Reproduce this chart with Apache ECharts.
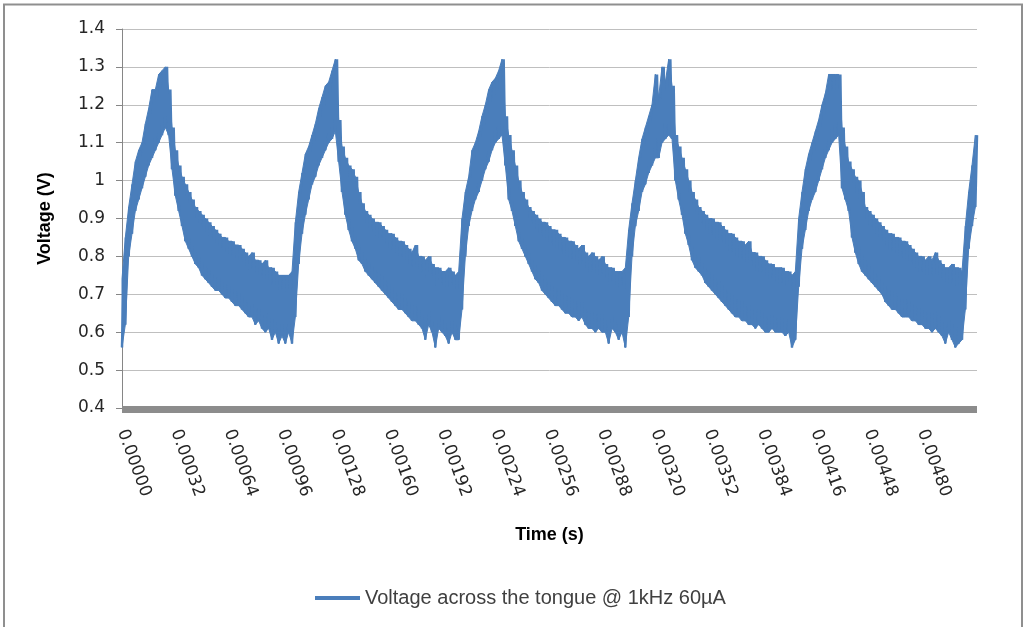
<!DOCTYPE html>
<html lang="en">
    <head>
        <meta charset="UTF-8">
        <title>Voltage across the tongue</title>
        <style>
            html, body { margin: 0; padding: 0; background: #fff; }
        </style>
    </head>
    <body>
        <div id="main" style="width: 1025px;height:627px;"></div>
        <script src="https://cdn.jsdelivr.net/npm/echarts@6/dist/echarts.min.js"></script>
        <script type="text/javascript">
            var step = 0.00002;

            // upper edge of the trace, one line per cycle
            var upper = [
                0.74,0.85,0.93,0.99,1.05,1.08,1.10,1.15,1.19,1.24,1.24,1.28,1.29,1.30,1.24,1.14,1.08,1.04,1.01,0.99,0.97,0.95,0.93,0.92,0.91,0.90,0.89,0.88,0.87,0.86,0.85,0.85,0.84,0.84,0.83,0.83,0.82,0.81,0.80,0.81,0.79,0.79,0.78,0.79,0.77,0.77,0.76,0.75,0.75,0.75,0.75,
                0.76,0.89,0.97,1.02,1.07,1.09,1.12,1.15,1.19,1.22,1.25,1.26,1.29,1.32,1.16,1.09,1.06,1.04,1.03,1.01,0.97,0.94,0.92,0.91,0.90,0.89,0.89,0.88,0.87,0.86,0.86,0.85,0.84,0.84,0.83,0.82,0.81,0.83,0.80,0.80,0.79,0.80,0.78,0.77,0.77,0.76,0.76,0.77,0.76,0.75,
                0.76,0.90,0.97,1.01,1.08,1.10,1.13,1.17,1.20,1.24,1.26,1.27,1.29,1.32,1.17,1.12,1.08,1.04,1.00,0.97,0.95,0.93,0.92,0.91,0.90,0.89,0.89,0.88,0.87,0.87,0.86,0.85,0.85,0.84,0.84,0.83,0.82,0.83,0.81,0.80,0.81,0.80,0.79,0.80,0.78,0.77,0.77,0.76,0.76,0.76,
                0.77,0.87,0.94,1.00,1.06,1.11,1.14,1.17,1.20,1.28,1.22,1.30,1.26,1.32,1.25,1.12,1.09,1.06,1.03,1.00,0.97,0.95,0.93,0.92,0.91,0.90,0.90,0.89,0.89,0.88,0.87,0.86,0.86,0.85,0.84,0.84,0.83,0.84,0.81,0.81,0.80,0.80,0.79,0.78,0.78,0.77,0.77,0.77,0.76,0.76,0.75,
                0.76,0.90,0.97,1.03,1.07,1.10,1.13,1.16,1.20,1.23,1.28,1.28,1.28,1.28,1.14,1.09,1.05,1.03,1.01,1.00,0.97,0.93,0.92,0.91,0.90,0.89,0.88,0.87,0.86,0.86,0.85,0.85,0.84,0.84,0.83,0.82,0.81,0.80,0.80,0.79,0.80,0.79,0.81,0.79,0.78,0.77,0.77,0.78,0.77,0.77,
                0.76,0.88,0.97,1.04,1.12
            ];

            // lower edge of the trace
            var lower = [
                0.56,0.62,0.80,0.86,0.92,0.95,0.98,1.01,1.04,1.06,1.08,1.10,1.12,1.14,1.12,1.03,0.96,0.92,0.88,0.84,0.82,0.80,0.78,0.77,0.75,0.74,0.73,0.72,0.71,0.71,0.70,0.69,0.69,0.68,0.67,0.67,0.66,0.65,0.64,0.64,0.62,0.63,0.61,0.60,0.61,0.58,0.60,0.57,0.59,0.57,0.60,
                0.57,0.64,0.78,0.86,0.91,0.95,0.99,1.01,1.04,1.06,1.08,1.10,1.11,1.13,1.05,0.97,0.91,0.87,0.84,0.82,0.79,0.78,0.76,0.75,0.74,0.73,0.72,0.71,0.70,0.69,0.68,0.67,0.66,0.66,0.65,0.64,0.63,0.63,0.62,0.61,0.58,0.62,0.60,0.56,0.61,0.60,0.59,0.57,0.60,0.58,
                0.58,0.66,0.80,0.88,0.92,0.95,0.97,1.00,1.03,1.05,1.08,1.10,1.11,1.12,1.04,0.95,0.92,0.88,0.84,0.82,0.80,0.78,0.76,0.74,0.73,0.71,0.70,0.69,0.68,0.67,0.67,0.66,0.65,0.65,0.64,0.64,0.63,0.64,0.62,0.61,0.61,0.60,0.61,0.60,0.60,0.57,0.61,0.60,0.58,0.60,
                0.56,0.64,0.80,0.88,0.92,0.97,0.99,1.02,1.04,1.06,1.06,1.10,1.11,1.12,1.11,1.00,0.95,0.91,0.86,0.83,0.79,0.77,0.76,0.75,0.73,0.72,0.71,0.70,0.69,0.68,0.67,0.66,0.65,0.64,0.64,0.63,0.63,0.62,0.62,0.61,0.62,0.61,0.60,0.60,0.61,0.60,0.60,0.60,0.59,0.60,0.56,
                0.58,0.72,0.82,0.87,0.92,0.95,0.97,1.00,1.03,1.06,1.08,1.10,1.11,1.12,0.98,0.95,0.92,0.85,0.81,0.78,0.76,0.75,0.74,0.73,0.72,0.71,0.70,0.68,0.67,0.66,0.66,0.65,0.64,0.64,0.64,0.63,0.63,0.62,0.62,0.61,0.61,0.60,0.61,0.60,0.59,0.57,0.60,0.58,0.56,0.57,
                0.58,0.66,0.82,0.88,0.93
            ];

            var yMin = 0.4, yMax = 1.4, yStep = 0.1;
            var xMax = 0.00513, xStep = 0.00032, xLastLabel = 0.0048;
            var seriesName = 'Voltage across the tongue @ 1kHz 60µA';
            var blue = '#4a7ebb';

            // the scope trace swings between both edges, so walk bottom -> top for each sample
            var trace = [];
            for (var k = 0; k < upper.length; k++) {
                trace.push([k * step, lower[k]]);
                trace.push([k * step + step / 2, upper[k]]);
            }
            // filled band between neighbouring samples, so the trace reads as solid like the scope export
            var band = [];
            for (var j = 0; j < upper.length - 1; j++) {
                band.push([j * step, lower[j], upper[j], (j + 1) * step, lower[j + 1], upper[j + 1]]);
            }

            var myChart = echarts.init(document.getElementById('main'));
            var option = {
                animation: false,
                backgroundColor: '#fff',
                graphic: [{
                    type: 'rect',
                    silent: true,
                    shape: { x: 4, y: 4.5, width: 1018, height: 700 },
                    style: { fill: 'none', stroke: '#8f8f8f', lineWidth: 2 }
                }],
                grid: { left: 122, right: 48, top: 29, bottom: 219 },
                legend: {
                    data: [seriesName],
                    left: 315,
                    top: 588,
                    padding: 0,
                    icon: 'rect',
                    itemWidth: 45,
                    itemHeight: 4,
                    textStyle: { fontFamily: 'Liberation Sans', fontSize: 20, color: '#404040' }
                },
                xAxis: {
                    type: 'value',
                    min: 0,
                    max: xMax,
                    interval: xStep,
                    offset: 1,
                    name: 'Time (s)',
                    nameLocation: 'middle',
                    nameGap: 117,
                    nameTextStyle: { fontFamily: 'Liberation Sans', fontWeight: 'bold', fontSize: 18, color: '#000' },
                    axisLine: { lineStyle: { color: '#8c8c8c', width: 7, cap: 'butt' } },
                    axisTick: { show: false },
                    splitLine: { show: false },
                    axisLabel: {
                        rotate: -70,
                        margin: 21,
                        showMaxLabel: false,
                        fontFamily: 'DejaVu Sans',
                        fontSize: 17,
                        color: '#262626',
                        formatter: function (v) { return v > xLastLabel + 1e-9 ? '' : v.toFixed(5) }
                    }
                },
                yAxis: {
                    type: 'value',
                    min: yMin,
                    max: yMax,
                    interval: yStep,
                    name: 'Voltage (V)',
                    nameLocation: 'middle',
                    nameRotate: 90,
                    nameGap: 68,
                    nameTextStyle: { fontFamily: 'Liberation Sans', fontWeight: 'bold', fontSize: 18, color: '#000' },
                    axisLine: { show: true, lineStyle: { color: '#868686' } },
                    axisTick: { show: true, length: 6, lineStyle: { color: '#868686' } },
                    splitLine: { lineStyle: { color: '#bfbfbf' } },
                    axisLabel: {
                        margin: 17,
                        fontFamily: 'DejaVu Sans',
                        fontSize: 17,
                        color: '#262626',
                        formatter: function (v) { return String(+v.toFixed(1)) }
                    }
                },
                series: [
                    {
                        name: 'band',
                        type: 'custom',
                        data: band,
                        silent: true,
                        encode: { x: [0, 3], y: [1, 2, 4, 5] },
                        renderItem: function (params, api) {
                            var p1 = api.coord([api.value(0), api.value(1)]);
                            var p2 = api.coord([api.value(0), api.value(2)]);
                            var p3 = api.coord([api.value(3), api.value(5)]);
                            var p4 = api.coord([api.value(3), api.value(4)]);
                            return {
                                type: 'polygon',
                                shape: { points: [p1, p2, p3, p4] },
                                style: { fill: blue, stroke: blue, lineWidth: 1 }
                            };
                        }
                    },
                    {
                        name: seriesName,
                        type: 'line',
                        data: trace,
                        symbol: 'none',
                        silent: true,
                        z: 3,
                        lineStyle: { color: blue, width: 2.5 },
                        itemStyle: { color: blue }
                    }
                ]
            };
            myChart.setOption(option);
        </script>
    </body>
</html>
